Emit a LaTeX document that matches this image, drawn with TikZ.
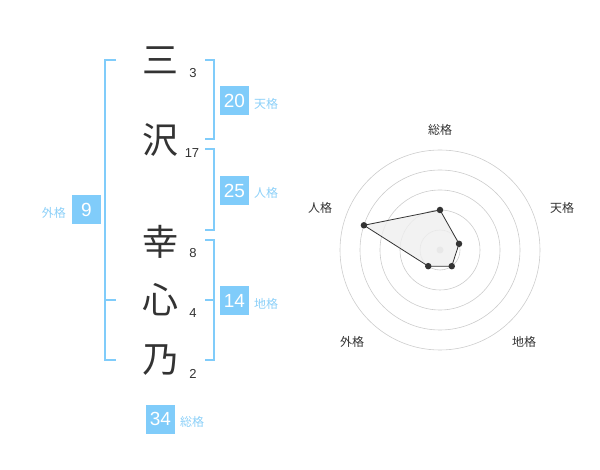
\documentclass[tikz,border=0pt]{standalone}
\usepackage{fontspec}
\setmainfont{Liberation Sans}
\newfontfamily\jp{Noto Sans CJK JP}
\definecolor{skyb}{RGB}{128,204,250}
\definecolor{skylbl}{RGB}{140,208,248}
\definecolor{ink}{RGB}{51,51,51}
\definecolor{ringc}{RGB}{204,204,204}
\tikzset{
  kanji/.style={font=\jp\fontsize{36}{36}\selectfont, text=ink, inner sep=0pt},
  strokes/.style={font=\fontsize{13}{13}\selectfont, text=ink, inner sep=0pt},
  valbox/.style={fill=skyb, text=white, minimum width=29pt, minimum height=29pt, inner sep=0pt, font=\fontsize{19}{19}\selectfont},
  kaku/.style={font=\jp\fontsize{12}{12}\selectfont, text=skylbl, inner sep=0pt},
  bracketline/.style={draw=skyb, line width=1.8pt},
  ring/.style={draw=ringc, line width=0.6pt},
  axlabel/.style={font=\jp\fontsize{12}{12}\selectfont, text=ink, inner sep=0pt},
  dot/.style={circle, fill=ink, inner sep=0pt, minimum size=6.5pt},
}
\begin{document}
\begin{tikzpicture}[x=1pt,y=-1pt]
\useasboundingbox (0,0) rectangle (600,470);
% characters
\node[kanji] (c1) at (160,60) {三};
\node[kanji] (c2) at (160,140) {沢};
\node[kanji] (c3) at (160,242) {幸};
\node[kanji] (c4) at (160,300) {心};
\node[kanji] (c5) at (160,360) {乃};
\node[strokes] (n1) at (193,73) {3};
\node[strokes] (n2) at (192,153) {17};
\node[strokes] (n3) at (193,253) {8};
\node[strokes] (n4) at (193,313) {4};
\node[strokes] (n5) at (193,374) {2};
% brackets
\coordinate (l1) at (116,60); \coordinate (l2) at (105,60);
\coordinate (l3) at (105,360); \coordinate (l4) at (116,360);
\coordinate (lm1) at (105,300); \coordinate (lm2) at (116,300);
\draw[bracketline] (l1) -- (l2) -- (l3) -- (l4);
\draw[bracketline] (lm1) -- (lm2);
\coordinate (t1) at (205,60); \coordinate (t2) at (214,60);
\coordinate (t3) at (214,139); \coordinate (t4) at (205,139);
\draw[bracketline] (t1) -- (t2) -- (t3) -- (t4);
\coordinate (j1) at (205,149); \coordinate (j2) at (214,149);
\coordinate (j3) at (214,230); \coordinate (j4) at (205,230);
\draw[bracketline] (j1) -- (j2) -- (j3) -- (j4);
\coordinate (g1) at (205,240); \coordinate (g2) at (214,240);
\coordinate (g3) at (214,360); \coordinate (g4) at (205,360);
\coordinate (gm1) at (205,300); \coordinate (gm2) at (214,300);
\draw[bracketline] (g1) -- (g2) -- (g3) -- (g4);
\draw[bracketline] (gm1) -- (gm2);
% value boxes
\node[valbox] (b9) at (86.5,210) {9};
\node[kaku, anchor=east] (k9) at (66,213) {外格};
\node[valbox] (b20) at (234.5,100.5) {20};
\node[kaku, anchor=west] (k20) at (254,104) {天格};
\node[valbox] (b25) at (234.5,190.5) {25};
\node[kaku, anchor=west] (k25) at (254,193) {人格};
\node[valbox] (b14) at (234.5,300.5) {14};
\node[kaku, anchor=west] (k14) at (254,304) {地格};
\node[valbox] (b34) at (160.5,419) {34};
\node[kaku, anchor=west] (k34) at (180,422) {総格};
% radar
\begin{scope}[shift={(440,250)}, y=1pt]
  \foreach \r in {20,40,60,80,100} \draw[ring] (0,0) circle (\r);
  \node[circle, fill=ringc, inner sep=0pt, minimum size=7pt] (ctr) at (0,0) {};
  \coordinate (p1) at (90:40);
  \coordinate (p2) at (18:20);
  \coordinate (p3) at (-54:20);
  \coordinate (p4) at (-126:20);
  \coordinate (p5) at (162:80);
  \fill[ink!8, opacity=0.8] (p1) -- (p2) -- (p3) -- (p4) -- (p5) -- cycle;
  \draw[ink, line width=0.8pt] (p1) -- (p2) -- (p3) -- (p4) -- (p5) -- cycle;
  \foreach \p in {p1,p2,p3,p4,p5} \node[dot] (d\p) at (\p) {};
  \node[axlabel] (a1) at (0,120) {総格};
  \node[axlabel] (a2) at (122,42) {天格};
  \node[axlabel] (a3) at (84,-92) {地格};
  \node[axlabel] (a4) at (-88,-92) {外格};
  \node[axlabel] (a5) at (-120,42) {人格};
\end{scope}
\end{tikzpicture}
\end{document}
